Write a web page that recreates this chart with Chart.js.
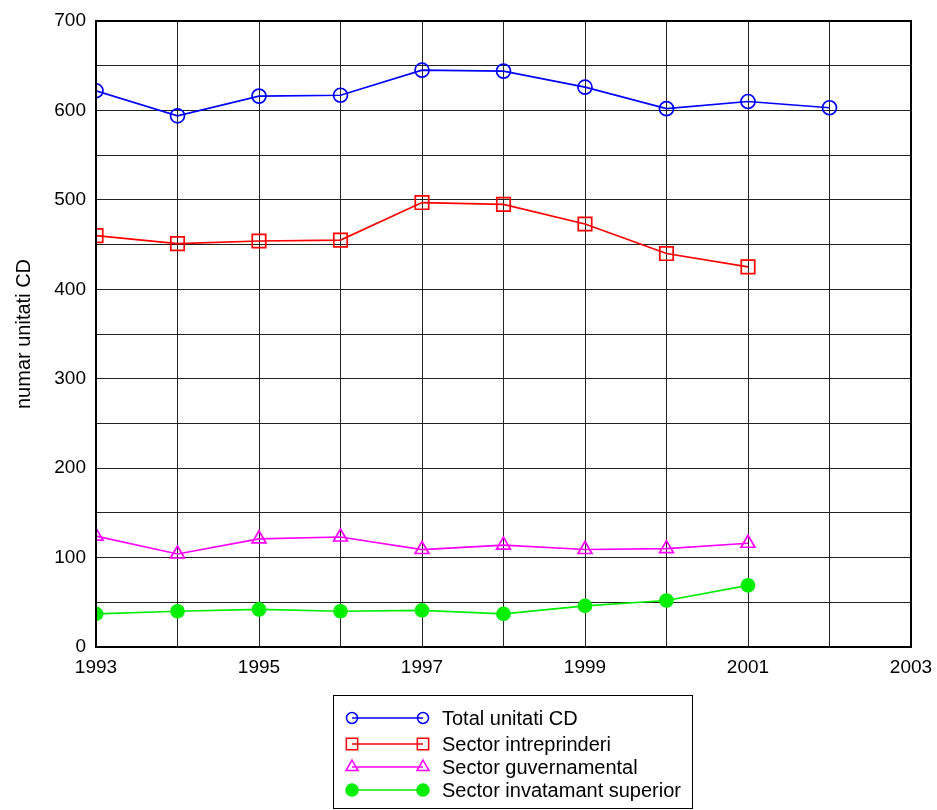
<!DOCTYPE html>
<html>
<head>
<meta charset="utf-8">
<script src="https://cdn.jsdelivr.net/npm/chart.js@4.4.0/dist/chart.umd.min.js"></script>
<style>
  html, body { margin: 0; padding: 0; background: #fff; }
  #wrap { width: 937px; height: 810px; }
</style>
</head>
<body>
<div id="wrap"><canvas id="c" width="937" height="810"></canvas></div>
<script>
// Data
const years = [1993, 1994, 1995, 1996, 1997, 1998, 1999, 2000, 2001, 2002];
const totalUnitati = [622, 594, 616, 617, 645, 644, 626, 602, 610, 603];
const sectorIntreprinderi = [460, 451, 454, 455, 497, 495, 473, 440, 425];
const sectorGuvernamental = [124, 104, 121, 123, 109, 114, 109, 110, 116];
const sectorInvatamant = [37, 40, 42, 40, 41, 37, 46, 52, 69];

const seriesNames = ['Total unitati CD', 'Sector intreprinderi', 'Sector guvernamental', 'Sector invatamant superior'];
const seriesColors = ['#0000ff', '#ff0000', '#ff00ff', '#00ee00'];

const FONT = '"Liberation Sans", Arial, sans-serif';

const toPoints = vals => vals.map((v, i) => ({ x: years[i], y: v }));

// Frame round the plot area
const framePlugin = {
  id: 'frame',
  afterDraw(chart) {
    const { ctx, chartArea: a } = chart;
    ctx.save();
    ctx.strokeStyle = '#000';
    ctx.lineWidth = 2;
    ctx.strokeRect(a.left, a.top, a.right - a.left, a.bottom - a.top);
    ctx.restore();
  }
};

// Boxed legend below the plot, line with a marker at each end
const legendPlugin = {
  id: 'boxLegend',
  afterDraw(chart) {
    const ctx = chart.ctx;
    const rows = [718, 744, 767, 790];
    ctx.save();
    ctx.strokeStyle = '#000';
    ctx.lineWidth = 1;
    ctx.strokeRect(333.5, 695.5, 359, 113);
    chart.data.datasets.forEach((ds, i) => {
      const y = rows[i];
      ctx.strokeStyle = ds.borderColor;
      ctx.lineWidth = 1.5;
      ctx.beginPath();
      ctx.moveTo(352, y);
      ctx.lineTo(423, y);
      ctx.stroke();
      [352, 423].forEach(x => {
        ctx.fillStyle = ds.pointBackgroundColor;
        ctx.strokeStyle = ds.borderColor;
        Chart.helpers.drawPoint(ctx, {
          pointStyle: ds.pointStyle,
          radius: ds.legendRadius,
          borderWidth: 1.5,
          rotation: 0
        }, x, y);
      });
      ctx.fillStyle = '#000';
      ctx.font = '20px ' + FONT;
      ctx.textBaseline = 'middle';
      ctx.textAlign = 'left';
      ctx.fillText(ds.label, 442, y + 1);
    });
    ctx.restore();
  }
};

new Chart(document.getElementById('c'), {
  type: 'line',
  data: {
    datasets: [
      {
        label: seriesNames[0],
        data: toPoints(totalUnitati),
        borderColor: seriesColors[0],
        pointBackgroundColor: 'rgba(0,0,0,0)',
        pointBorderColor: seriesColors[0],
        pointStyle: 'circle',
        pointRadius: 7,
        legendRadius: 5.5,
      },
      {
        label: seriesNames[1],
        data: toPoints(sectorIntreprinderi),
        borderColor: seriesColors[1],
        pointBackgroundColor: 'rgba(0,0,0,0)',
        pointBorderColor: seriesColors[1],
        pointStyle: 'rect',
        pointRadius: 9.5,
        legendRadius: 8,
      },
      {
        label: seriesNames[2],
        data: toPoints(sectorGuvernamental),
        borderColor: seriesColors[2],
        pointBackgroundColor: 'rgba(0,0,0,0)',
        pointBorderColor: seriesColors[2],
        pointStyle: 'triangle',
        pointRadius: 8,
        legendRadius: 7,
      },
      {
        label: seriesNames[3],
        data: toPoints(sectorInvatamant),
        borderColor: seriesColors[3],
        pointBackgroundColor: seriesColors[3],
        pointBorderColor: seriesColors[3],
        pointStyle: 'circle',
        pointRadius: 6.5,
        legendRadius: 6,
      }
    ].map(ds => ({ ...ds, borderWidth: 1.7, pointBorderWidth: 1.7, tension: 0, fill: false }))
  },
  options: {
    responsive: false,
    animation: false,
    devicePixelRatio: 1,
    layout: { padding: { left: 0, right: 26, top: 21, bottom: 0 } },
    plugins: {
      legend: { display: false },
      tooltip: { enabled: false }
    },
    scales: {
      x: {
        type: 'linear',
        min: 1993,
        max: 2003,
        afterFit: s => { s.height = 163; s.paddingLeft = 0; s.paddingRight = 0; },
        grid: { color: '#222', lineWidth: 1, drawTicks: false },
        border: { display: false },
        ticks: {
          stepSize: 1,
          padding: 9,
          color: '#000',
          font: { size: 19, family: FONT },
          maxRotation: 0,
          autoSkip: false,
          callback: v => (v % 2 === 1 ? String(v) : '')
        }
      },
      y: {
        min: 0,
        max: 700,
        afterFit: s => { s.width = 96; s.paddingTop = 0; s.paddingBottom = 0; },
        grid: { color: '#222', lineWidth: 1, drawTicks: false },
        border: { display: false },
        title: {
          display: true,
          text: 'numar unitati CD',
          color: '#000',
          font: { size: 20, family: FONT, weight: 'normal' },
          padding: { top: 12, bottom: 0 }
        },
        ticks: {
          stepSize: 50,
          padding: 10,
          color: '#000',
          font: { size: 19, family: FONT },
          autoSkip: false,
          callback: v => (v % 100 === 0 ? String(v) : '')
        }
      }
    }
  },
  plugins: [framePlugin, legendPlugin]
});
</script>
</body>
</html>
